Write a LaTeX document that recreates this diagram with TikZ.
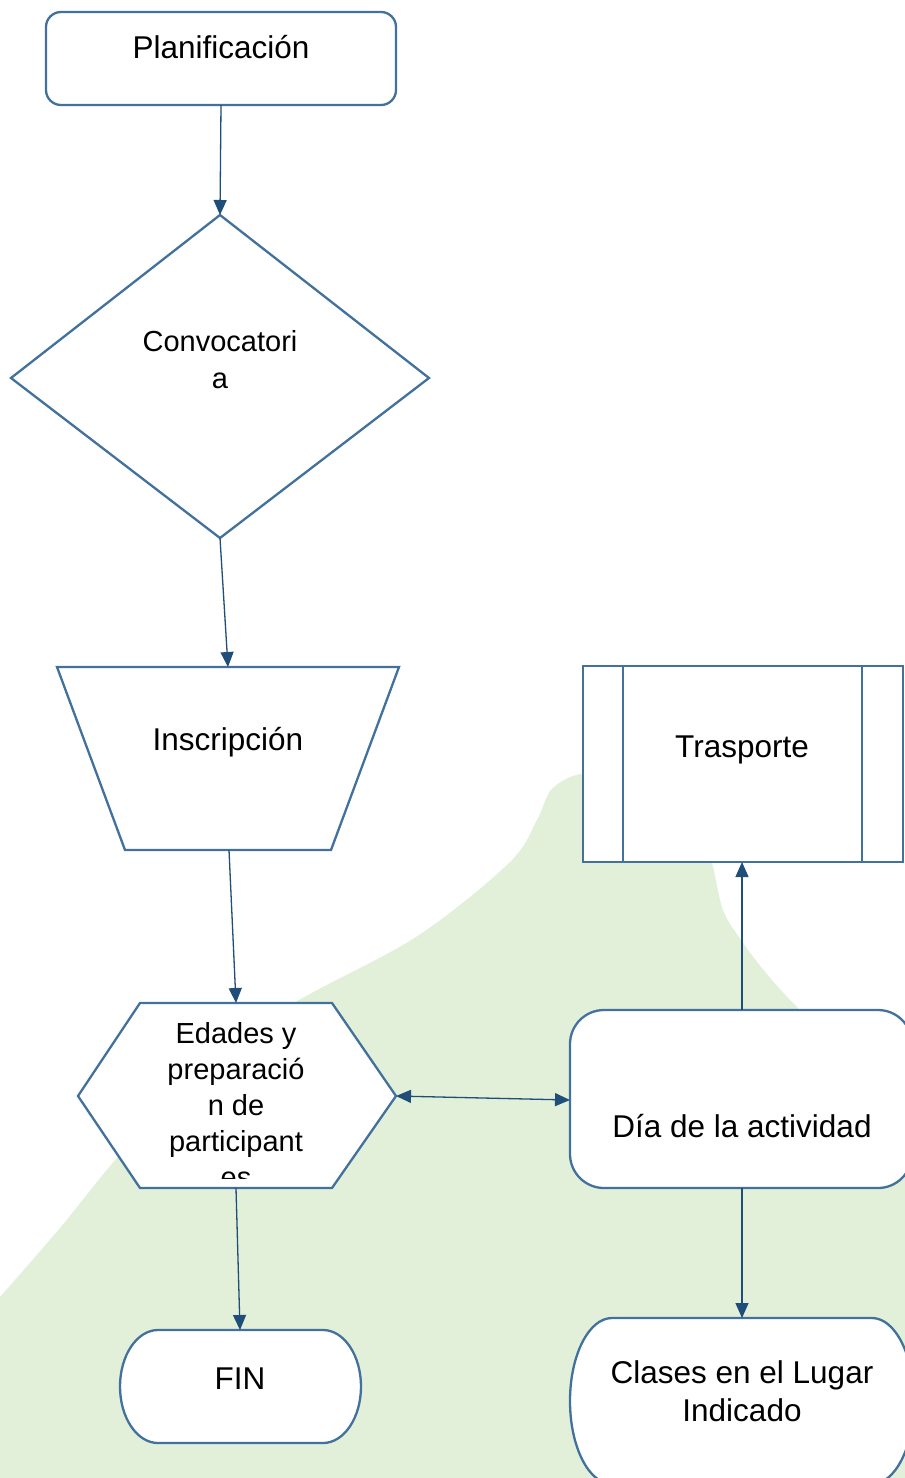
\documentclass[tikz,border=0pt]{standalone}
\usepackage{fontspec}
\setmainfont{Liberation Sans}
\usetikzlibrary{arrows.meta}
\definecolor{outl}{HTML}{41719C}
\definecolor{conn}{HTML}{1F4E79}
\definecolor{blob}{HTML}{E2F0D9}
\tikzset{
  shp/.style={draw=outl, line width=2.3pt, fill=white},
  cn/.style={draw=conn, line width=1.3pt, -{Triangle[length=15pt,width=13pt]}},
  cnb/.style={draw=conn, line width=1.3pt, {Triangle[length=15pt,width=13pt]}-{Triangle[length=15pt,width=13pt]}},
  big/.style={anchor=base, inner sep=0pt, font=\fontsize{31.5pt}{38pt}\selectfont, text=black},
  sml/.style={anchor=base, inner sep=0pt, font=\fontsize{29pt}{36pt}\selectfont, text=black}
}
\begin{document}
\begin{tikzpicture}[x=1pt,y=-1pt]
\clip (0,0) rectangle (905,1478);
\fill[white] (0,0) rectangle (905,1478);
% background blob
\fill[blob] plot[smooth, tension=0.55] coordinates {(0,1297) (60,1228) (117,1158) (200,1068) (294,1003) (416,937) (509,863) (537,820) (551,790) (576,775) (605,775) (655,795) (700,830) (712,863) (723,910) (741,940) (766,973) (798,1008) (860,1068) (910,1100)} -- (910,1478) -- (0,1478) -- cycle;

% shapes
\draw[shp, rounded corners=15pt] (46,12) rectangle (396,105);
\draw[shp] (220,215) -- (429,378) -- (220,538) -- (11,378) -- cycle;
\draw[shp] (57,667) -- (399,667) -- (331,850) -- (125,850) -- cycle;
\draw[shp] (583,666) rectangle (903,862);
\draw[shp] (623,666) -- (623,862);
\draw[shp] (862,666) -- (862,862);
\draw[shp] (140,1003) -- (332,1003) -- (396,1096) -- (332,1188) -- (140,1188) -- (78,1096) -- cycle;
\draw[shp, rounded corners=34pt] (570,1010) rectangle (912,1188);
\draw[shp] (158,1330) -- (323,1330) arc[start angle=90, end angle=-90, x radius=38pt, y radius=56.5pt] -- (158,1443) arc[start angle=270, end angle=90, x radius=38pt, y radius=56.5pt] -- cycle;
\draw[shp] (612,1318) -- (872,1318) arc[start angle=90, end angle=-90, x radius=42pt, y radius=83pt] -- (612,1484) arc[start angle=270, end angle=90, x radius=42pt, y radius=83pt] -- cycle;

% texts
\node[big] (tplan) at (221,58) {Planificación};
\node[sml] (tconv1) at (220,351) {Convocatori};
\node[sml] (tconv2) at (220,388) {a};
\node[big] (tinsc) at (228,750) {Inscripción};
\node[big] (ttras) at (742,757) {Trasporte};
\node[sml] (thex1) at (236,1043) {Edades y};
\node[sml] (thex2) at (236,1079) {preparació};
\node[sml] (thex3) at (236,1115) {n de};
\node[sml] (thex4) at (236,1151) {participant};
\begin{scope}
\clip (0,0) rectangle (905,1178);
\node[sml] (thex5) at (236,1187) {es};
\end{scope}
\node[big] (tdia) at (742,1137) {Día de la actividad};
\node[big] (tfin) at (240,1389) {FIN};
\node[big] (tcla1) at (742,1383) {Clases en el Lugar};
\node[big] (tcla2) at (742,1421) {Indicado};

% connection points
\coordinate (plan-s) at (221,105);
\coordinate (conv-n) at (220,215);
\coordinate (conv-s) at (220,538);
\coordinate (insc-n) at (228,667);
\coordinate (insc-s) at (229,850);
\coordinate (hex-n) at (236,1003);
\coordinate (hex-e) at (396,1096);
\coordinate (hex-s) at (236,1188);
\coordinate (dia-w) at (570,1100);
\coordinate (dia-n) at (742,1010);
\coordinate (dia-s) at (742,1188);
\coordinate (tras-s) at (742,862);
\coordinate (cla-n) at (742,1318);
\coordinate (fin-n) at (240,1330);

% connectors
\draw[cn] (plan-s) -- (conv-n);
\draw[cn] (conv-s) -- (insc-n);
\draw[cn] (insc-s) -- (hex-n);
\draw[cnb] (hex-e) -- (dia-w);
\draw[cn] (dia-n) -- (tras-s);
\draw[cn] (dia-s) -- (cla-n);
\draw[cn] (hex-s) -- (fin-n);
\end{tikzpicture}
\end{document}
